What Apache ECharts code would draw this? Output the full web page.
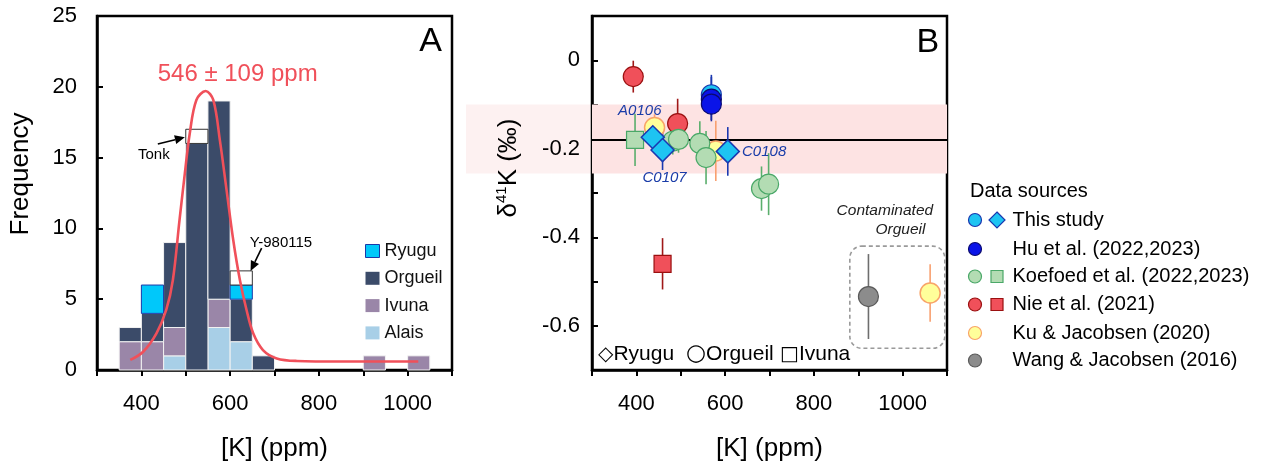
<!DOCTYPE html>
<html><head><meta charset="utf-8">
<script src="https://cdn.jsdelivr.net/npm/echarts/dist/echarts.min.js"></script>
<style>html,body{margin:0;padding:0;background:#fff}#c{width:1269px;height:468px}</style>
</head><body><div id="c"></div>
<script>
// ---------------- Panel A: histogram of [K] (ppm) ----------------
const binStart = [350, 400, 450, 500, 550, 600, 650, 900, 1000];
const binWidth = 50;
const alais   = [0, 0, 1, 0, 3, 2, 0, 0, 0];
const ivuna   = [2, 2, 2, 0, 2, 0, 0, 1, 1];
const orgueil = [1, 2, 6, 16, 14, 3, 1, 0, 0];
const ryugu   = [0, 2, 0, 0, 0, 1, 0, 0, 0];
const otherCI = [0, 0, 0, 1, 0, 1, 0, 0, 0]; // Tonk, Y-980115
// fitted curve
const curveK = [375, 404, 434, 456, 471, 486, 498, 509, 524, 545, 562, 577, 592, 607, 622, 637, 652, 674, 705, 750, 850, 950, 1024];
const curveF = [0.71, 1.29, 2.59, 4.24, 6.36, 10.6, 13.9, 16.7, 19.07, 19.7, 19.07, 16.2, 12.7, 9.18, 6.36, 4.24, 2.59, 1.41, 0.82, 0.64, 0.6, 0.6, 0.6];
const xTicksA = [400, 600, 800, 1000];

// ---------------- Panel B: d41K vs [K] ----------------
const thisRyuguK = [437, 459, 606];
const thisRyuguD = [-0.174, -0.203, -0.206];
const thisRyuguE = [0.03, 0.045, 0.055];
const thisRyuguNames = ['A0106', 'C0107', 'C0108'];
const thisOrgK = [569];
const thisOrgD = [-0.078];
const thisOrgE = [0.045];
const huK = [569, 569];
const huD = [-0.088, -0.099];
const huE = [0.05, 0.036];
const koeOrgK = [482, 495, 543, 557, 682, 698];
const koeOrgD = [-0.183, -0.179, -0.188, -0.220, -0.290, -0.280];
const koeOrgE = [0.03, 0.03, 0.05, 0.06, 0.05, 0.07];
const koeIvuK = [397];
const koeIvuD = [-0.180];
const koeIvuE = [0.059];
const nieOrgK = [393, 493];
const nieOrgD = [-0.037, -0.143];
const nieOrgE = [0.036, 0.056];
const nieIvuK = [459];
const nieIvuD = [-0.46];
const nieIvuE = [0.058];
const kuK = [441, 579, 1062];
const kuD = [-0.152, -0.205, -0.526];
const kuE = [0.03, 0.068, 0.065];
const wangK = [923];
const wangD = [-0.534];
const wangE = [0.096];
const meanD = -0.178;
const bandLo = -0.256, bandHi = -0.100;
const yLabelsB = [0, -0.2, -0.4, -0.6];

const FONT = '"Liberation Sans", Arial, Helvetica, sans-serif';

// ---- stacking for histogram ----
const stackOrder = [
  {name: 'Alais', counts: alais, fill: '#a8cfe7', stroke: '#f2f2f2', lw: 1},
  {name: 'Ivuna', counts: ivuna, fill: '#9a86a8', stroke: '#f2f2f2', lw: 1},
  {name: 'Orgueil', counts: orgueil, fill: '#3b4b69', stroke: '#f2f2f2', lw: 1},
  {name: 'Ryugu', counts: ryugu, fill: '#00c8fa', stroke: '#1a38a8', lw: 1},
  {name: 'Other CI', counts: otherCI, fill: '#ffffff', stroke: '#333333', lw: 1}
];
const base = binStart.map(() => 0);
const barSeries = stackOrder.map(s => {
  const data = [];
  binStart.forEach((b, i) => {
    if (s.counts[i] > 0) data.push([b, b + binWidth, base[i], base[i] + s.counts[i]]);
    base[i] += s.counts[i];
  });
  return {
    type: 'custom', name: s.name, xAxisIndex: 0, yAxisIndex: 0, z: 2,
    itemStyle: {color: s.fill, borderColor: s.stroke, borderWidth: s.lw},
    encode: {x: [0, 1], y: [2, 3]},
    renderItem: (params, api) => {
      const p0 = api.coord([api.value(0), api.value(2)]);
      const p1 = api.coord([api.value(1), api.value(3)]);
      return {type: 'rect', shape: {x: p0[0], y: p1[1], width: p1[0] - p0[0], height: p0[1] - p1[1]},
        style: {fill: s.fill, stroke: s.stroke, lineWidth: s.lw}};
    },
    data
  };
});

// ---- panel B helpers ----
function zip(K, D, E) { return K.map((k, i) => E ? [k, D[i], E[i]] : [k, D[i]]); }
function errSeries(K, D, E, color, z) {
  return {
    type: 'custom', xAxisIndex: 1, yAxisIndex: 1, z: z, silent: true,
    encode: {x: 0, y: 1},
    renderItem: (params, api) => {
      const a = api.coord([api.value(0), api.value(1) - api.value(2)]);
      const b = api.coord([api.value(0), api.value(1) + api.value(2)]);
      return {type: 'line', shape: {x1: a[0], y1: a[1], x2: b[0], y2: b[1]}, style: {stroke: color, lineWidth: 1.6}};
    },
    data: zip(K, D, E)
  };
}
function ptSeries(K, D, symbol, size, fill, stroke, z, bw) {
  return {
    type: 'scatter', xAxisIndex: 1, yAxisIndex: 1, z: z, symbol: symbol, symbolSize: size,
    itemStyle: {color: fill, borderColor: stroke, borderWidth: bw || 1.2, opacity: 1},
    data: zip(K, D)
  };
}
const C = {
  cyan: ['#1ec4f2', '#1a38b0', '#1a38b0'],
  hu: ['#0a14e8', '#0a0a70', '#1a2aa0'],
  koe: ['#b3dcb3', '#4aa868', '#5aae6c'],
  nie: ['#f0505a', '#9a1010', '#a01818'],
  ku: ['#ffff9a', '#f8a468', '#f8a070'],
  wang: ['#8c8c8c', '#5a5a5a', '#6e6e6e']
};

const labelPos = [
  {position: 'inside', offset: [-13, -26]},
  {position: 'inside', offset: [2, 28]},
  {position: 'right', distance: 2}
];
const ryuguDiamonds = ptSeries(thisRyuguK, thisRyuguD, 'diamond', 23, C.cyan[0], C.cyan[1], 20, 1.5);
ryuguDiamonds.data = ryuguDiamonds.data.map((d, i) => ({
  value: d,
  label: Object.assign({show: true, formatter: thisRyuguNames[i], color: '#1a3ca8', fontStyle: 'italic', fontSize: 15, fontFamily: FONT}, labelPos[i])
}));

const bandCarrier = {
  type: 'line', xAxisIndex: 1, yAxisIndex: 1, z: 1, data: [], silent: true,
  markArea: {silent: true, itemStyle: {color: '#fde3e3'}, data: [[{yAxis: bandHi}, {yAxis: bandLo}]]},
  markLine: {silent: true, symbol: ['none', 'none'], label: {show: false}, lineStyle: {color: '#000', width: 2.2, type: 'solid'}, data: [{yAxis: meanD}]}
};

const axisCommonX = {
  type: 'value', min: 300, max: 1100, interval: 100,
  nameLocation: 'middle', nameGap: 66,
  nameTextStyle: {fontSize: 26, color: '#000', fontFamily: FONT},
  axisLine: {onZero: false, lineStyle: {color: '#000', width: 2.5}},
  axisTick: {inside: false, length: 6, lineStyle: {color: '#000', width: 2}},
  axisLabel: {margin: 23, fontSize: 22, color: '#000', fontFamily: FONT,
    formatter: v => xTicksA.indexOf(v) >= 0 ? String(v) : ''},
  splitLine: {show: false}
};

const option = {
  animation: false,
  textStyle: {fontFamily: FONT},
  grid: [
    {left: 97, top: 16, width: 355, height: 354, show: true, borderColor: '#000', borderWidth: 2.5, backgroundColor: 'rgba(0,0,0,0)'},
    {left: 592, top: 16, width: 355, height: 354, show: true, borderColor: '#000', borderWidth: 2.5, backgroundColor: 'rgba(0,0,0,0)'}
  ],
  legend: {
    show: true, orient: 'vertical', left: 360, top: 237, itemWidth: 14, itemHeight: 13, itemGap: 9.3,
    textStyle: {fontSize: 18, color: '#111', fontFamily: FONT},
    selectedMode: false,
    data: [
      {name: 'Ryugu', icon: 'rect', itemStyle: {color: '#00c8fa', borderColor: '#1a38a8', borderWidth: 1}},
      {name: 'Orgueil', icon: 'rect', itemStyle: {color: '#3b4b69', borderWidth: 0}},
      {name: 'Ivuna', icon: 'rect', itemStyle: {color: '#9a86a8', borderWidth: 0}},
      {name: 'Alais', icon: 'rect', itemStyle: {color: '#a8cfe7', borderWidth: 0}}
    ]
  },
  xAxis: [
    Object.assign({}, axisCommonX, {gridIndex: 0, name: '[K] (ppm)'}),
    Object.assign({}, axisCommonX, {gridIndex: 1, name: '[K] (ppm)'})
  ],
  yAxis: [
    {gridIndex: 0, type: 'value', min: 0, max: 25, interval: 5,
      name: 'Frequency', nameLocation: 'middle', nameGap: 63,
      nameTextStyle: {fontSize: 26, color: '#000', fontFamily: FONT, padding: [0, 0, 0, 38]},
      axisLine: {lineStyle: {color: '#000', width: 2.5}},
      axisTick: {inside: true, length: 6, lineStyle: {color: '#000', width: 2}},
      axisLabel: {margin: 20, fontSize: 22, color: '#000', fontFamily: FONT},
      splitLine: {show: false}},
    {gridIndex: 1, type: 'value', min: -0.7, max: 0.1, interval: 0.1,
      name: '{a|δ}{s|41}{a|K (‰)}', nameLocation: 'middle', nameGap: 68,
      nameTextStyle: {fontSize: 26, color: '#000', fontFamily: FONT, padding: [0, 0, 0, 50],
        rich: {a: {fontSize: 26, fontFamily: FONT, color: '#000', lineHeight: 30},
               s: {fontSize: 15, fontFamily: FONT, color: '#000', verticalAlign: 'top', lineHeight: 30, padding: [0, 0, 10, 0]}}},
      axisLine: {onZero: false, lineStyle: {color: '#000', width: 2.5}},
      axisTick: {inside: true, length: 6, lineStyle: {color: '#000', width: 2}},
      axisLabel: {margin: 12, fontSize: 22, color: '#000', fontFamily: FONT,
        formatter: v => {
          const r = Math.round(v * 10) / 10;
          for (const t of yLabelsB) if (Math.abs(t - r) < 1e-9) return t === 0 ? '0' : t.toFixed(1);
          return '';
        }},
      splitLine: {show: false}}
  ],
  series: [
    ...barSeries,
    {type: 'line', name: 'fit', xAxisIndex: 0, yAxisIndex: 0, z: 5, smooth: 0.35, showSymbol: false, silent: true,
      lineStyle: {color: '#f0505a', width: 2.6}, data: curveK.map((k, i) => [k, curveF[i]])},
    bandCarrier,
    errSeries(wangK, wangD, wangE, C.wang[2], 3),
    errSeries(kuK, kuD, kuE, C.ku[2], 3),
    errSeries(nieOrgK, nieOrgD, nieOrgE, C.nie[2], 3),
    errSeries(nieIvuK, nieIvuD, nieIvuE, C.nie[2], 3),
    errSeries(huK, huD, huE, C.hu[2], 3),
    errSeries(thisOrgK, thisOrgD, thisOrgE, C.cyan[2], 3),
    errSeries(koeOrgK, koeOrgD, koeOrgE, C.koe[2], 3),
    errSeries(koeIvuK, koeIvuD, koeIvuE, C.koe[2], 3),
    errSeries(thisRyuguK, thisRyuguD, thisRyuguE, C.cyan[2], 3),
    ptSeries(wangK, wangD, 'circle', 20, C.wang[0], C.wang[1], 10),
    ptSeries(kuK, kuD, 'circle', 20, C.ku[0], C.ku[1], 11, 1.5),
    ptSeries(nieOrgK, nieOrgD, 'circle', 20, C.nie[0], C.nie[1], 12),
    ptSeries(nieIvuK, nieIvuD, 'rect', 17, C.nie[0], C.nie[1], 12),
    ptSeries(thisOrgK, thisOrgD, 'circle', 20, C.cyan[0], C.cyan[1], 13),
    ptSeries(huK, huD, 'circle', 20, C.hu[0], C.hu[1], 14),
    ptSeries(koeIvuK, koeIvuD, 'rect', 17, C.koe[0], C.koe[1], 15),
    ptSeries(koeOrgK, koeOrgD, 'circle', 20, C.koe[0], C.koe[1], 16),
    ryuguDiamonds
  ]
};

const chart = echarts.init(document.getElementById('c'), null, {renderer: 'canvas'});
chart.setOption(option);

// ---------- annotations (placed from data coordinates) ----------
const pA = (x, y) => chart.convertToPixel({gridIndex: 0}, [x, y]);
const pB = (x, y) => chart.convertToPixel({gridIndex: 1}, [x, y]);
function txt(x, y, text, size, extra) {
  return Object.assign({type: 'text', x: x, y: y, z: 50,
    style: Object.assign({text: text, fontSize: size, fontFamily: FONT, fill: '#000', align: 'left', verticalAlign: 'middle'}, extra || {})});
}
function arrow(a, b) {
  const dx = b[0] - a[0], dy = b[1] - a[1], L = Math.hypot(dx, dy);
  const ux = dx / L, uy = dy / L, hl = 10, hw = 4.5;
  const bx = b[0] - ux * hl, by = b[1] - uy * hl;
  return [
    {type: 'line', z: 50, shape: {x1: a[0], y1: a[1], x2: bx, y2: by}, style: {stroke: '#000', lineWidth: 1.6}},
    {type: 'polygon', z: 50, shape: {points: [[b[0], b[1]], [bx - uy * hw, by + ux * hw], [bx + uy * hw, by - ux * hw]]}, style: {fill: '#000'}}
  ];
}
const gA = [];
const tonkTail = pA(437, 15.96), tonkHead = pA(498, 16.43);
const yTail = pA(671, 8.6), yHead = pA(646, 7.0);
const tonkT = pA(428, 15.2), yT = pA(644, 9.0);
gA.push(...arrow(tonkTail, tonkHead), ...arrow(yTail, yHead));
gA.push(txt(tonkT[0], tonkT[1], 'Tonk', 15, {align: 'center'}));
gA.push(txt(yT[0], yT[1], 'Y-980115', 15));
const fitLbl = pA(617, 20.9);
gA.push(txt(fitLbl[0], fitLbl[1], '546 ± 109 ppm', 24, {fill: '#f0505a', align: 'center'}));
const aPos = pA(1051.5, 23.2);
gA.push(txt(aPos[0], aPos[1], 'A', 34, {align: 'center'}));
const bPos = pB(1057, 0.040);
gA.push(txt(bPos[0], bPos[1], 'B', 34, {align: 'center'}));

// faint pink band spill to the left of panel B (as in the reference)
const bh = pB(300, bandHi), bl = pB(300, bandLo);
gA.push({type: 'rect', z: -1, shape: {x: 466, y: bh[1], width: bh[0] - 466, height: bl[1] - bh[1]}, style: {fill: '#fdf1f1'}});

// contaminated box
const c1 = pB(881, -0.42), c2 = pB(1095, -0.651);
gA.push({type: 'rect', z: 5, shape: {x: c1[0], y: c1[1], width: c2[0] - c1[0], height: c2[1] - c1[1], r: 12},
  style: {fill: 'none', stroke: '#9a9a9a', lineWidth: 1.6, lineDash: [4, 3]}});
const ct1 = pB(960, -0.341), ct2 = pB(995, -0.383);
gA.push(txt(ct1[0], ct1[1], 'Contaminated', 15.5, {align: 'center', fontStyle: 'italic', fill: '#222'}));
gA.push(txt(ct2[0], ct2[1], 'Orgueil', 15.5, {align: 'center', fontStyle: 'italic', fill: '#222'}));

// bottom legend of panel B (shape key)
const lgY = pB(300, -0.665)[1];
const richSym = {
  sym: {fontSize: 20, fontFamily: '"DejaVu Sans", sans-serif', fill: '#000'},
  big: {fontSize: 23, fontFamily: '"DejaVu Sans", sans-serif', fill: '#000'},
  t: {fontSize: 21, fontFamily: FONT, fill: '#000'}
};
gA.push(txt(598, lgY, '{sym|◇}{t|Ryugu}', 21, {rich: richSym}));
gA.push(txt(686, lgY, '{big|○}{t|Orgueil}', 21, {rich: richSym}));
gA.push(txt(780, lgY, '{sym|□}{t|Ivuna}', 21, {rich: richSym}));

// right legend: data sources
gA.push(txt(970, 191, 'Data sources', 20));
const rows = [
  {y: 220, c: C.cyan, second: 'diamond', label: 'This study'},
  {y: 249, c: C.hu, second: null, label: 'Hu et al. (2022,2023)'},
  {y: 276.5, c: C.koe, second: 'square', label: 'Koefoed et al. (2022,2023)'},
  {y: 304.5, c: C.nie, second: 'square', label: 'Nie et al. (2021)'},
  {y: 333, c: C.ku, second: null, label: 'Ku & Jacobsen (2020)'},
  {y: 360.5, c: C.wang, second: null, label: 'Wang & Jacobsen (2016)'}
];
rows.forEach(r => {
  gA.push({type: 'circle', z: 50, shape: {cx: 975, cy: r.y, r: 6.5}, style: {fill: r.c[0], stroke: r.c[1], lineWidth: 1.2}});
  if (r.second === 'diamond') {
    gA.push({type: 'polygon', z: 50, shape: {points: [[997, r.y - 8], [1005, r.y], [997, r.y + 8], [989, r.y]]}, style: {fill: r.c[0], stroke: r.c[1], lineWidth: 1.2}});
  } else if (r.second === 'square') {
    gA.push({type: 'rect', z: 50, shape: {x: 991, y: r.y - 6, width: 12, height: 12}, style: {fill: r.c[0], stroke: r.c[1], lineWidth: 1.2}});
  }
  gA.push(txt(1012.5, r.y, r.label, 20));
});

chart.setOption({graphic: gA});
</script>
</body></html>
